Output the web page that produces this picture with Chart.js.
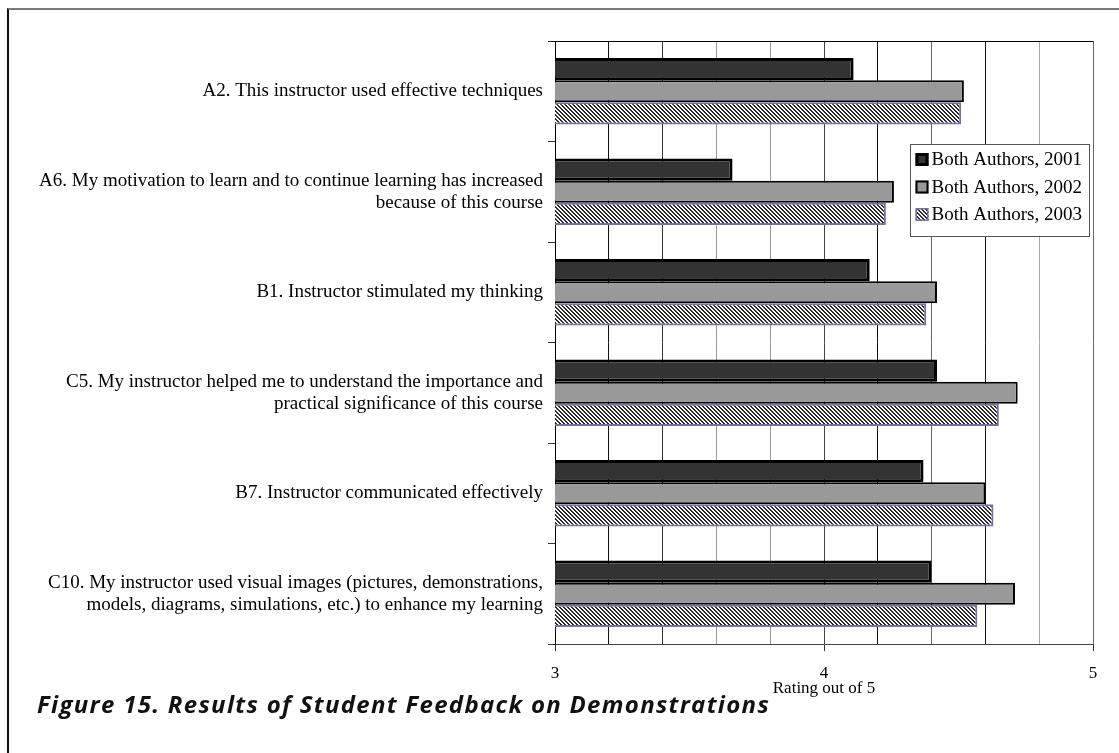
<!DOCTYPE html>
<html>
<head>
<meta charset="utf-8">
<script src="https://cdn.jsdelivr.net/npm/chart.js@4/dist/chart.umd.min.js"></script>
<style>
  html, body { margin:0; padding:0; background:#fff; }
  #wrap { position:relative; width:1119px; height:753px; overflow:hidden; }
  #frame { position:absolute; left:7px; top:8px; width:1200px; height:800px;
           border-top:2px solid #7a7a7a; border-left:2px solid #111; }
  #cv { position:absolute; left:0; top:0; }
  #caption { position:absolute; left:37px; top:689px; line-height:30px; font-family:"Open Sans", sans-serif;
             font-weight:bold; font-style:italic; font-size:24px; color:#111; letter-spacing:1.3px; }
</style>
</head>
<body>
<div id="wrap">
  <div id="frame"></div>
  <canvas id="cv" width="1119" height="753"></canvas>
  <div id="caption">Figure 15. Results of Student Feedback on Demonstrations</div>
</div>
<script>
// preguntas de la encuesta (etiquetas de 2 líneas donde el original corta el texto)
const categories = [
  "A2. This instructor used effective techniques",
  ["A6. My motivation to learn and to continue learning has increased", "because of this course"],
  "B1. Instructor stimulated my thinking",
  ["C5. My instructor helped me to understand the importance and", "practical significance of this course"],
  "B7. Instructor communicated effectively",
  ["C10. My instructor used visual images (pictures, demonstrations,", "models, diagrams, simulations, etc.) to enhance my learning"]
];
const seriesNames = ["Both Authors, 2001", "Both Authors, 2002", "Both Authors, 2003"];
const values2001 = [4.11, 3.66, 4.17, 4.42, 4.37, 4.40];
const values2002 = [4.52, 4.26, 4.42, 4.72, 4.60, 4.71];
const values2003 = [4.51, 4.23, 4.38, 4.65, 4.63, 4.57];
const xMin = 3, xMax = 5, xStep = 0.2;

const serif = "'Times New Roman', 'Liberation Serif', serif";

// trama rayada diagonal para 2003
function hatch(){
  const pc = document.createElement('canvas'); pc.width = 4; pc.height = 4;
  const g = pc.getContext('2d');
  g.fillStyle = '#fff'; g.fillRect(0,0,4,4);
  g.fillStyle = '#2a2a2a';
  for(let i=0;i<4;i++){ g.fillRect(i,i,1,1); g.fillRect((i+1)%4,i,1,1); }
  return g.createPattern(pc,'repeat');
}
const hatchFill = hatch();

// color de cada línea de la grilla (el original tiene grosores desparejos)
const gridCols = ['#000','#111','#333','#999','#999','#444','#111','#666','#111','#aaa','#666'];

// borde superior del área de trazado + leyenda dentro del gráfico
const frameLegend = {
  id:'frameLegend',
  afterDraw(chart){
    const {ctx, chartArea:a} = chart;
    ctx.save();
    ctx.strokeStyle = '#000'; ctx.lineWidth = 1;
    ctx.beginPath(); ctx.moveTo(a.left-4, a.top+0.5); ctx.lineTo(a.right, a.top+0.5); ctx.stroke();

    const lx = a.right - 182.5, ly = a.top + 103.5, lw = 179, lh = 92;
    ctx.fillStyle = '#fff'; ctx.fillRect(lx, ly, lw, lh);
    ctx.strokeStyle = '#555'; ctx.strokeRect(lx, ly, lw, lh);
    ctx.font = '19px ' + serif; ctx.textBaseline = 'middle'; ctx.fillStyle = '#000';
    chart.data.datasets.forEach((ds,i)=>{
      const cy = ly + 15 + i*27.5;
      const bx = lx + 5, by = cy - 6.5;
      ctx.fillStyle = ds.backgroundColor; ctx.fillRect(bx, by, 13, 13);
      ctx.strokeStyle = ds.borderColor; ctx.lineWidth = i===0 ? 3 : (i===1 ? 2 : 1.5);
      const o = ctx.lineWidth/2;
      ctx.strokeRect(bx+o, by+o, 13-2*o, 13-2*o);
      ctx.fillStyle = '#000';
      ctx.fillText(ds.label, lx + 21, cy + 1);
    });
    ctx.restore();
  }
};

new Chart(document.getElementById('cv').getContext('2d'), {
  type:'bar',
  data:{
    labels: categories,
    datasets:[
      {label:seriesNames[0], data:values2001, backgroundColor:'#333333', borderColor:'#000', borderWidth:3, borderSkipped:false},
      {label:seriesNames[1], data:values2002, backgroundColor:'#999999', borderColor:'#000', borderWidth:2, borderSkipped:false},
      {label:seriesNames[2], data:values2003, backgroundColor:hatchFill, borderColor:'#7272a8', borderWidth:2, borderSkipped:false}
    ]
  },
  options:{
    indexAxis:'y', responsive:false, animation:false,
    layout:{padding:{top:41, right:26, bottom:54, left:0}},
    datasets:{bar:{categoryPercentage:0.66, barPercentage:1}},
    plugins:{legend:{display:false}, tooltip:{enabled:false}},
    scales:{
      x:{
        min:xMin, max:xMax,
        afterFit:s=>{ s.height = 55; },
        ticks:{stepSize:xStep, color:'#000', font:{family:serif, size:17}, padding:12,
               callback:v=>Math.abs(v-Math.round(v))<1e-6 ? String(Math.round(v)) : ''},
        grid:{color:c=>gridCols[c.index] || '#666', tickLength:7, drawOnChartArea:true,
              tickColor:c=>(c.tick && Math.abs(c.tick.value-Math.round(c.tick.value))<1e-6) ? '#333' : 'rgba(0,0,0,0)'},
        border:{color:'#444', width:1},
        title:{display:true, text:'Rating out of 5', color:'#000', font:{family:serif, size:17}, padding:0}
      },
      y:{
        afterFit:s=>{ s.width = 555; },
        ticks:{color:'#000', font:{family:serif, size:19, lineHeight:1.16}, padding:5},
        grid:{drawOnChartArea:false, offset:true, tickLength:7, color:'#333'},
        border:{color:'#000', width:1}
      }
    }
  },
  plugins:[frameLegend]
});
</script>
</body>
</html>
